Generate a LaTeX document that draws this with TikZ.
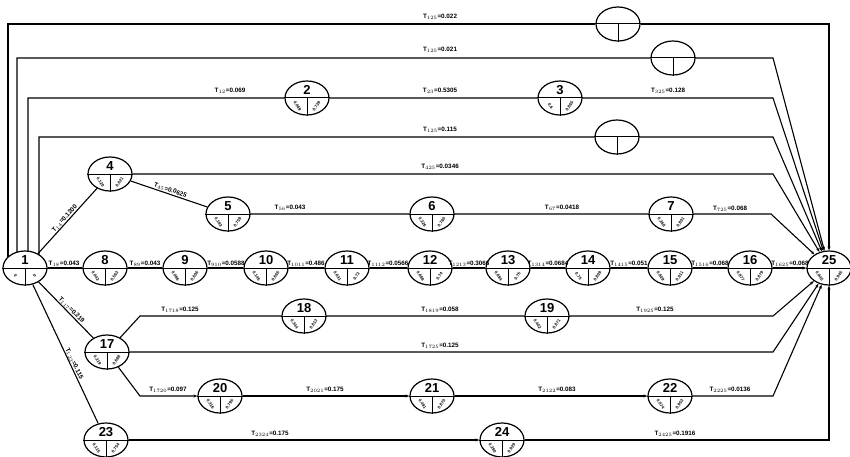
\documentclass[tikz,border=0pt]{standalone}
\usepackage{fontspec}
\setmainfont{Liberation Sans}
\usetikzlibrary{shapes.geometric,backgrounds,arrows.meta}

\tikzset{
	ev/.style={ellipse, draw, line width=1.2pt, fill=white, minimum width=44pt, minimum height=34pt, inner sep=0pt},
	evnum/.style={font=\fontsize{13}{13}\selectfont\bfseries, inner sep=0pt},
	evval/.style={font=\fontsize{4.2}{5}\selectfont\bfseries, inner sep=0pt},
	lbl/.style={font=\fontsize{6.3}{7}\selectfont\bfseries, inner sep=0.4pt},
	con/.style={line width=1.1pt}
}

%Ereignis: Nummer, Lage, Werte unten links/rechts
\newcommand{\evt}[4]{%
	\node[ev] (n#1) at (#2) {};
	\draw[line width=1pt] (n#1.west) -- (n#1.east) (n#1.center) -- (n#1.south);
	\node[evnum] (k#1) at ([yshift=8pt]n#1.center) {#1};
	\node[evval, rotate=-55] (p#1) at ([shift={(-9.5pt,-8pt)}]n#1.center) {#3};
	\node[evval, rotate=55] (q#1) at ([shift={(9.5pt,-8pt)}]n#1.center) {#4};
}
%leerer Kreis
\newcommand{\dum}[2]{%
	\node[ev] (#1) at (#2) {};
	\draw[line width=1pt] (#1.west) -- (#1.east) (#1.center) -- (#1.south);
}

\begin{document}
\begin{tikzpicture}[x=1pt, y=-1pt, >={Stealth[length=4pt,width=3pt]}]
	\useasboundingbox (0,0) rectangle (850,457);
	
	%Knoten
	\evt{1}{25,268}{0}{0}
	\evt{2}{307,98}{0.069}{0.739}
	\evt{3}{560,98}{0.6}{0.865}
	\evt{4}{110,174}{0.120}{0.621}
	\evt{5}{228,214}{0.183}{0.759}
	\evt{6}{432,214}{0.226}{0.780}
	\evt{7}{671,214}{0.268}{0.801}
	\evt{8}{105,268}{0.043}{0.563}
	\evt{9}{185,268}{0.086}{0.606}
	\evt{10}{266,268}{0.145}{0.665}
	\evt{11}{347,268}{0.631}{0.72}
	\evt{12}{430,268}{0.688}{0.74}
	\evt{13}{508,268}{0.694}{0.75}
	\evt{14}{588,268}{0.75}{0.809}
	\evt{15}{670,268}{0.809}{0.811}
	\evt{16}{750,268}{0.877}{0.879}
	\evt{25}{829,268}{0.945}{0.945}
	\evt{17}{107,352}{0.219}{0.688}
	\evt{18}{304,316}{0.344}{0.813}
	\evt{19}{547,316}{0.402}{0.871}
	\evt{20}{220,396}{0.316}{0.795}
	\evt{21}{432,396}{0.491}{0.870}
	\evt{22}{670,396}{0.574}{0.953}
	\evt{23}{106,440}{0.115}{0.754}
	\evt{24}{502,440}{0.290}{0.929}
	
	\dum{e1}{618,24}
	\dum{e2}{673,58}
	\dum{e3}{617,137}
	
	%Knickpunkte
	\coordinate (b2) at (773,58);
	\coordinate (b3) at (773,98);
	\coordinate (b4) at (773,137);
	\coordinate (b5) at (773,174);
	\coordinate (b7) at (771,214);
	\coordinate (b19) at (773,316);
	\coordinate (b17) at (773,352);
	\coordinate (b22) at (773,396);
	\coordinate (a18) at (140,316);
	\coordinate (a20) at (140,396);
	
	%Linien
	\begin{pgfonlayer}{background}
		\draw[con,->] ([xshift=-17pt]n1.center) |- (e1) -| (n25);
		\draw[con,->] ([xshift=-8pt]n1.center) |- (e2) -- (b2) -- (n25);
		\draw[con,->] ([xshift=3pt]n1.center) |- (n2) -- (n3) -- (b3) -- (n25);
		\draw[con,->] ([xshift=14pt]n1.center) |- (e3) -- (b4) -- (n25);
		
		\draw[con] (n1) -- (n4) node[lbl, sloped, midway, above] (t14) {T$_{14}$=0.1200};
		\draw[con] (n4) -- (n5) node[lbl, sloped, midway, above] (t45) {T$_{45}$=0.0625};
		\draw[con,->] (n4) -- (b5) -- (n25);
		\draw[con,->] (n5) -- (n6) -- (n7) -- (b7) -- (n25);
		
		\draw[con,->] (n1) -- (n8) -- (n9) -- (n10) -- (n11) -- (n12) -- (n13) -- (n14) -- (n15) -- (n16) -- (n25);
		
		\draw[con] (n1) -- (n17) node[lbl, sloped, pos=0.55, above] (t117) {T$_{117}$=0.219};
		\draw[con] (n1) -- (n23) node[lbl, sloped, pos=0.58, above] (t123) {T$_{123}$=0.115};
		
		\draw[con,->] (n17) -- (a18) -- (n18) -- (n19) -- (b19) -- (n25);
		\draw[con,->] (n17) -- (b17) -- (n25);
		\draw[con,->] (n17) -- (a20) -- (n20);
		\draw[con,->] (n20) -- (n21);
		\draw[con,->] (n21) -- (n22);
		\draw[con,->] (n22) -- (b22) -- (n25);
		
		\draw[con,->] (n23) -- (n24);
		\draw[con,->] (n24) -| (n25);
	\end{pgfonlayer}
	
	%Beschriftung
	\node[lbl] (t1) at (440,17) {T$_{125}$=0.022};
	\node[lbl] (t2) at (440,50) {T$_{125}$=0.021};
	\node[lbl] (t12) at (230,91) {T$_{12}$=0.069};
	\node[lbl] (t23) at (440,91) {T$_{23}$=0.5305};
	\node[lbl] (t325) at (668,91) {T$_{325}$=0.128};
	\node[lbl] (t3) at (440,130) {T$_{125}$=0.115};
	\node[lbl] (t425) at (440,167) {T$_{425}$=0.0346};
	\node[lbl] (t56) at (290,208) {T$_{56}$=0.043};
	\node[lbl] (t67) at (562,208) {T$_{67}$=0.0418};
	\node[lbl] (t725) at (730,209) {T$_{725}$=0.068};
	
	\node[lbl] (t18) at (64,264) {T$_{18}$=0.043};
	\node[lbl] (t89) at (145,264) {T$_{89}$=0.043};
	\node[lbl] (t910) at (226,264) {T$_{910}$=0.0588};
	\node[lbl] (t1011) at (306,264) {T$_{1011}$=0.486};
	\node[lbl] (t1112) at (388,264) {T$_{1112}$=0.0566};
	\node[lbl] (t1213) at (469,264) {T$_{1213}$=0.3066};
	\node[lbl] (t1314) at (548,264) {T$_{1314}$=0.0684};
	\node[lbl] (t1415) at (629,264) {T$_{1415}$=0.051};
	\node[lbl] (t1516) at (710,264) {T$_{1516}$=0.068};
	\node[lbl] (t1625) at (790,264) {T$_{1625}$=0.068};
	
	\node[lbl] (t1718) at (180,310) {T$_{1718}$=0.125};
	\node[lbl] (t1819) at (440,310) {T$_{1819}$=0.058};
	\node[lbl] (t1925) at (655,310) {T$_{1925}$=0.125};
	\node[lbl] (t1725) at (440,346) {T$_{1725}$=0.125};
	\node[lbl] (t1720) at (168,390) {T$_{1720}$=0.097};
	\node[lbl] (t2021) at (325,390) {T$_{2021}$=0.175};
	\node[lbl] (t2122) at (557,390) {T$_{2122}$=0.083};
	\node[lbl] (t2225) at (730,390) {T$_{2225}$=0.0136};
	\node[lbl] (t2324) at (270,434) {T$_{2324}$=0.175};
	\node[lbl] (t2425) at (675,434) {T$_{2425}$=0.1916};
\end{tikzpicture}
\end{document}
